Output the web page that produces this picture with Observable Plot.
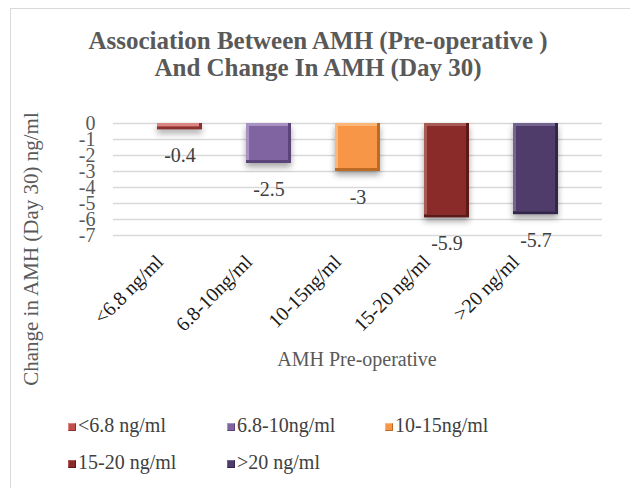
<!DOCTYPE html>
<html><head><meta charset="utf-8">
<script src="https://cdn.jsdelivr.net/npm/d3@7"></script>
<script src="https://cdn.jsdelivr.net/npm/@observablehq/plot@0.6"></script>
<style>
body{margin:0;background:#fff;}
#wrap{position:relative;width:630px;height:488px;overflow:hidden;font-family:"Liberation Serif","Times New Roman",serif;background:#fff;}
#frame{position:absolute;left:10px;top:8px;width:660px;height:520px;border-left:1.5px solid #d9d9d9;border-top:1.5px solid #d9d9d9;}
#title{position:absolute;left:0;width:636px;top:27px;text-align:center;font-weight:bold;font-size:25px;line-height:27px;color:#595959;}
#ytitle{position:absolute;left:31px;top:249px;transform:translate(-50%,-50%) rotate(-90deg);white-space:nowrap;font-size:21px;color:#595959;}
#xtitle{position:absolute;left:357px;top:359px;transform:translate(-50%,-50%);white-space:nowrap;font-size:20px;color:#595959;}
#chart{position:absolute;left:0;top:0;}
.leg{position:absolute;font-size:20px;color:#404040;white-space:nowrap;line-height:20px;}
.sw{display:inline-block;width:8px;height:8px;margin-right:2px;vertical-align:1px;box-sizing:border-box;}
</style></head>
<body>
<div id="wrap">
  <div id="frame"></div>
  <div id="title">Association Between AMH (Pre-operative )<br>And Change In AMH (Day 30)</div>
  <div id="chart"></div>
  <div id="ytitle">Change in AMH (Day 30) ng/ml</div>
  <div id="xtitle">AMH Pre-operative</div>
  <div id="legend"></div>
</div>
<script>
const categories = ["<6.8 ng/ml", "6.8-10ng/ml", "10-15ng/ml", "15-20 ng/ml", ">20 ng/ml"];
const values = [-0.4, -2.5, -3, -5.9, -5.7];
const yTicks = [0, -1, -2, -3, -4, -5, -6, -7];
const mainColors = ["#c0504d", "#8064a2", "#f79646", "#8b2b29", "#4f3c6b"];
const lightColors = ["#d98582", "#a892c4", "#fbb67a", "#a85a57", "#74648f"];
const darkColors = ["#8a3230", "#5b4479", "#bd6a25", "#5c1917", "#33264a"];

const data = categories.map((c, i) => ({cat: c, value: values[i], main: mainColors[i], light: lightColors[i], dark: darkColors[i]}));

const chart = Plot.plot({
  width: 630,
  height: 345,
  marginTop: 123,
  marginBottom: 110,
  marginLeft: 113,
  marginRight: 28,
  style: {fontFamily: '"Liberation Serif","Times New Roman",serif', fontSize: "20px", background: "transparent", overflow: "visible"},
  x: {domain: categories, padding: 0.49, axis: null},
  y: {domain: [-7, 0], axis: null},
  color: {type: "identity"},
  marks: [
    Plot.gridY(yTicks, {stroke: "#d9d9d9", strokeOpacity: 1, strokeWidth: 1.5}),
    Plot.axisY({ticks: yTicks, tickSize: 0, tickPadding: 18, fontSize: 20, color: "#595959", label: null, tickFormat: d => String(d)}),
    Plot.barY(data, {x: "cat", y: "value", fill: "dark"}),
    Plot.barY(data, {x: "cat", y: "value", fill: "light", insetRight: 3, insetBottom: 3}),
    Plot.barY(data, {x: "cat", y: "value", fill: "main", insetTop: 3, insetBottom: 3, insetLeft: 3, insetRight: 3}),
    Plot.axisX({tickRotate: -45, tickSize: 0, tickPadding: 20, fontSize: 20, color: "#1a1a1a", label: null, dx: -20, dy: 3}),
    Plot.text(data, {x: "cat", y: "value", text: d => String(d.value), dy: 26, fontSize: 20, fill: "#404040"})
  ]
});
d3.select(chart).selectAll('g[aria-label="bar"]').filter((d, i) => i === 0)
  .style("filter", "drop-shadow(0px 4px 3px rgba(0,0,0,0.35))");
document.getElementById("chart").appendChild(chart);

const legend = document.getElementById("legend");
const legPos = [[68, 415], [227, 415], [385, 415], [68, 452], [227, 452]];
categories.forEach((c, i) => {
  const d = document.createElement("div");
  d.className = "leg";
  d.style.left = legPos[i][0] + "px";
  d.style.top = legPos[i][1] + "px";
  const s = document.createElement("span");
  s.className = "sw";
  s.style.background = mainColors[i];
  s.style.borderTop = "1px solid " + lightColors[i];
  s.style.borderLeft = "1px solid " + lightColors[i];
  s.style.borderBottom = "1px solid " + darkColors[i];
  s.style.borderRight = "1px solid " + darkColors[i];
  d.appendChild(s);
  d.appendChild(document.createTextNode(c));
  legend.appendChild(d);
});
</script>
</body></html>
